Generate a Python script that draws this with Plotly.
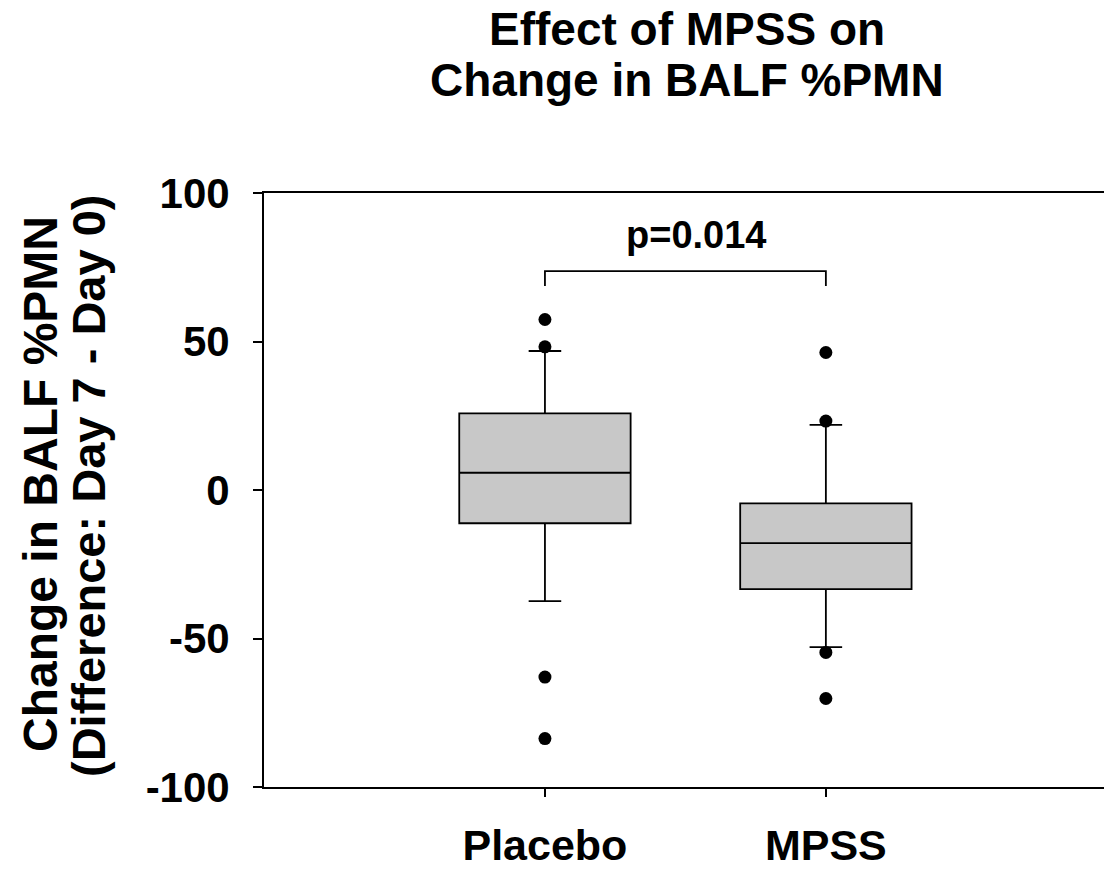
import plotly.graph_objects as go

# ---- data ----
groups = ["Placebo", "MPSS"]
q1 = [-11.2, -33.4]
median = [5.8, -17.9]
q3 = [25.8, -4.5]
lower_whisker = [-37.4, -52.9]
upper_whisker = [46.8, 21.9]
outlier_group = ["Placebo", "Placebo", "Placebo", "Placebo", "MPSS", "MPSS", "MPSS", "MPSS"]
outlier_value = [57.4, 48.2, -63.0, -83.7, 46.3, 23.2, -54.7, -70.2]

y_ticks = [-100, -50, 0, 50, 100]
y_tick_labels = ["-100", "-50", "0", "50", "100"]
p_text = "p=0.014"
bracket_top = 73.7
bracket_bottom = 68.7

FONT = "Liberation Sans, Arial, sans-serif"

fig = go.Figure()
for i, g in enumerate(groups):
    fig.add_trace(go.Box(
        x=[g], q1=[q1[i]], median=[median[i]], q3=[q3[i]],
        lowerfence=[lower_whisker[i]], upperfence=[upper_whisker[i]],
        width=0.61, whiskerwidth=0.19, boxpoints=False,
        fillcolor="#c8c8c8", line=dict(color="black", width=1.8),
        showlegend=False, hoverinfo="skip",
    ))

fig.add_trace(go.Scatter(
    x=outlier_group, y=outlier_value, mode="markers",
    marker=dict(color="black", size=13, symbol="circle"),
    showlegend=False, hoverinfo="skip",
))

# significance bracket
fig.add_shape(type="path", xref="x", yref="y",
              path=f"M 0 {bracket_bottom} L 0 {bracket_top} L 1 {bracket_top} L 1 {bracket_bottom}",
              line=dict(color="black", width=1.8))
fig.add_annotation(x=0.54, y=86, xref="x", yref="y", text=f"<b>{p_text}</b>",
                   showarrow=False, font=dict(family=FONT, size=38, color="black"))

# titles
fig.add_annotation(x=0.5036, y=(787 - 29) / 594, xref="paper", yref="paper",
                   text="<b>Effect of MPSS on</b>", showarrow=False,
                   xanchor="center", yanchor="middle",
                   font=dict(family=FONT, size=46, color="black"))
fig.add_annotation(x=0.5036, y=(787 - 80) / 594, xref="paper", yref="paper",
                   text="<b>Change in BALF %PMN</b>", showarrow=False,
                   xanchor="center", yanchor="middle",
                   font=dict(family=FONT, size=46, color="black"))
# y-axis title (two lines)
fig.add_annotation(x=(40 - 264) / 840, y=(787 - 484) / 594, xref="paper", yref="paper",
                   text="<b>Change in BALF %PMN</b>", showarrow=False, textangle=-90,
                   xanchor="center", yanchor="middle",
                   font=dict(family=FONT, size=48, color="black"))
fig.add_annotation(x=(88 - 264) / 840, y=(787 - 486) / 594, xref="paper", yref="paper",
                   text="<b>(Difference: Day 7 - Day 0)</b>", showarrow=False, textangle=-90,
                   xanchor="center", yanchor="middle",
                   font=dict(family=FONT, size=47, color="black"))

fig.update_layout(
    width=1104, height=870,
    margin=dict(l=264, r=0, t=193, b=83, autoexpand=False),
    paper_bgcolor="white", plot_bgcolor="white",
    font=dict(family=FONT, color="black"),
    xaxis=dict(
        type="category", categoryorder="array", categoryarray=groups,
        range=[-1, 1.99], showgrid=False, zeroline=False, automargin=False,
        showline=True, linecolor="black", linewidth=1.8, mirror=True,
        ticks="outside", ticklen=8, tickwidth=1.8, tickcolor="black",
        tickvals=groups, ticktext=[f"<b>{g}</b>" for g in groups],
        tickfont=dict(family=FONT, size=43, color="black"),
        ticklabelstandoff=11,
    ),
    yaxis=dict(
        range=[-100, 100], showgrid=False, zeroline=False, automargin=False,
        tickvals=y_ticks, ticktext=[f"<b>{t}</b>" for t in y_tick_labels],
        showline=True, linecolor="black", linewidth=1.8,
        ticks="outside", ticklen=9, tickwidth=1.8, tickcolor="black",
        tickfont=dict(family=FONT, size=42, color="black"),
        ticklabelstandoff=15,
    ),
)

fig.write_html("out.html")
